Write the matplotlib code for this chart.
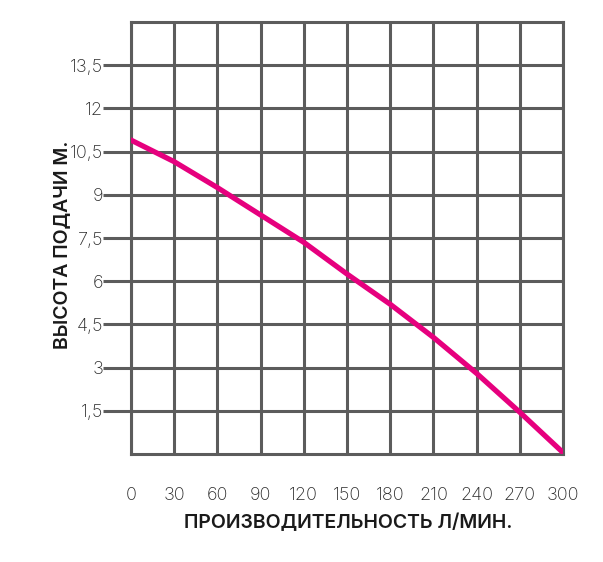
import numpy as np
import matplotlib.pyplot as plt
from matplotlib.ticker import FixedLocator

# flow rate (l/min) and head (m)
flow = [0, 30, 60, 90, 120, 150, 180, 210, 240, 270, 300]
head = [10.9, 10.15, 9.25, 8.3, 7.35, 6.25, 5.2, 4.05, 2.8, 1.45, 0.05]

x_ticks = [0, 30, 60, 90, 120, 150, 180, 210, 240, 270, 300]
x_labels = ['0', '30', '60', '90', '120', '150', '180', '210', '240', '270', '300']
y_ticks = [1.5, 3, 4.5, 6, 7.5, 9, 10.5, 12, 13.5]
y_labels = ['1,5', '3', '4,5', '6', '7,5', '9', '10,5', '12', '13,5']

grid_color = '#5c5c5c'
curve_color = '#e6007e'
lw = 2.2

plt.rcParams['font.family'] = ['Inter', 'DejaVu Sans']

fig = plt.figure(figsize=(6.03, 5.62), dpi=100)
ax = fig.add_axes([131 / 603, 1 - 454 / 562, 432 / 603, 432 / 562])

ax.plot(flow, head, color=curve_color, linewidth=3.8, solid_capstyle='round', zorder=5)

ax.set_xlim(0, 300)
ax.set_ylim(0, 15)

# x: labels on every 30, longer tick lines only for the inner ones
ax.set_xticks(x_ticks)
ax.set_xticklabels(x_labels)
ax.xaxis.set_minor_locator(FixedLocator(x_ticks[1:-1]))
ax.tick_params(axis='x', which='major', length=0, pad=24, labelsize=13, labelcolor='#2a2a2a')
ax.tick_params(axis='x', which='minor', length=21, width=lw, color=grid_color)

ax.set_yticks(y_ticks)
ax.set_yticklabels(y_labels)
ax.tick_params(axis='y', which='major', length=20, width=lw, color=grid_color, pad=0,
               labelsize=13, labelcolor='#2a2a2a')

for lab in ax.get_xticklabels() + ax.get_yticklabels():
    lab.set_fontweight('light')

ax.grid(True, which='major', color=grid_color, linewidth=lw)
ax.set_axisbelow(True)
for s in ax.spines.values():
    s.set_color(grid_color)
    s.set_linewidth(lw)

fig.text(348 / 603, 1 - 523 / 562, 'ПРОИЗВОДИТЕЛЬНОСТЬ Л/МИН.', ha='center', va='center',
         fontsize=14, fontweight='semibold', color='#1a1a1a')
fig.text(62 / 603, 1 - 245 / 562, 'ВЫСОТА ПОДАЧИ М.', ha='center', va='center', rotation=90,
         fontsize=14, fontweight='semibold', color='#1a1a1a')

fig.savefig('out.png', dpi=100, facecolor='white')
